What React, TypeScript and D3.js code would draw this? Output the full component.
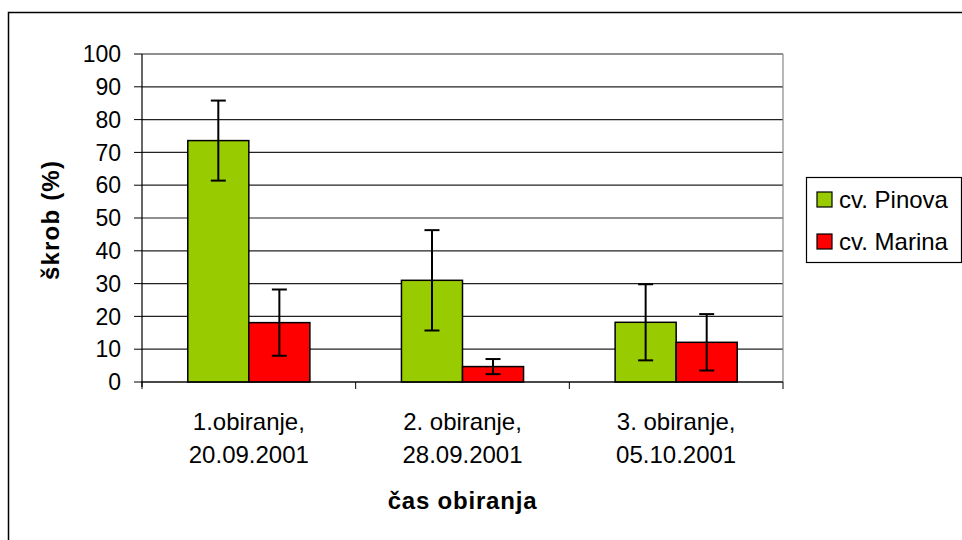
import * as d3 from "d3";

const categories = ["1.obiranje,|20.09.2001", "2. obiranje,|28.09.2001", "3. obiranje,|05.10.2001"];
const seriesNames = ["cv. Pinova", "cv. Marina"];
const seriesColors = ["#99cc00", "#ff0000"];
const pinova = [73.6, 31.0, 18.2];
const marina = [18.1, 4.7, 12.1];
const pinovaErr = [12.2, 15.3, 11.6];
const marinaErr = [10.1, 2.3, 8.6];
const yTicks = [0, 10, 20, 30, 40, 50, 60, 70, 80, 90, 100];

const W = 962;
const H = 540;
const plot = { left: 142, right: 783, top: 54, bottom: 382 };
const font = "Arial, 'Liberation Sans', sans-serif";

export default function App() {
  const x = d3
    .scaleBand<number>()
    .domain(d3.range(categories.length))
    .range([plot.left, plot.right]);
  const inner = d3
    .scaleBand<number>()
    .domain([0, 1])
    .range([0, x.bandwidth()])
    .paddingOuter(0.75);
  const y = d3.scaleLinear().domain([0, 100]).range([plot.bottom, plot.top]);

  const values = [pinova, marina];
  const errs = [pinovaErr, marinaErr];
  const bounds = d3.range(categories.length + 1).map((i) => plot.left + i * x.bandwidth());

  return (
    <svg
      width={W}
      height={H}
      style={{ position: "absolute", left: 0, top: 0, display: "block", background: "#fff" }}
      fontFamily={font}
    >
      <rect x={0} y={0} width={W} height={H} fill="#fff" />
      {/* outer chart frame (continues past the window) */}
      <rect x={8.5} y={12.5} width={W + 20} height={H + 20} fill="none" stroke="#000" strokeWidth={1.5} />

      {/* gridlines */}
      {yTicks.map((t) => (
        <line key={t} x1={plot.left} x2={plot.right} y1={y(t)} y2={y(t)} stroke="#222" strokeWidth={1.2} />
      ))}
      <line x1={plot.right} x2={plot.right} y1={plot.top} y2={plot.bottom} stroke="#888" strokeWidth={1.2} />

      {/* bars */}
      {values.map((vals, s) =>
        vals.map((v, i) => (
          <rect
            key={`${s}-${i}`}
            x={x(i)! + inner(s)!}
            y={y(v)}
            width={inner.bandwidth()}
            height={y(0) - y(v)}
            fill={seriesColors[s]}
            stroke="#000"
            strokeWidth={1.5}
          />
        )),
      )}

      {/* error bars */}
      {values.map((vals, s) =>
        vals.map((v, i) => {
          const cx = x(i)! + inner(s)! + inner.bandwidth() / 2;
          const hi = y(v + errs[s][i]);
          const lo = y(v - errs[s][i]);
          return (
            <g key={`e${s}-${i}`} stroke="#000" strokeWidth={2}>
              <line x1={cx} x2={cx} y1={hi} y2={lo} />
              <line x1={cx - 7.5} x2={cx + 7.5} y1={hi} y2={hi} />
              <line x1={cx - 7.5} x2={cx + 7.5} y1={lo} y2={lo} />
            </g>
          );
        }),
      )}

      {/* axes */}
      <line x1={plot.left} x2={plot.left} y1={plot.top} y2={plot.bottom + 5} stroke="#000" strokeWidth={1.2} />
      <line x1={plot.left - 1} x2={plot.right} y1={plot.bottom} y2={plot.bottom} stroke="#000" strokeWidth={1.2} />
      {yTicks.map((t) => (
        <g key={`yt${t}`}>
          <line x1={plot.left - 8} x2={plot.left} y1={y(t)} y2={y(t)} stroke="#000" strokeWidth={1} />
          <text x={plot.left - 21} y={y(t)} dy="0.36em" textAnchor="end" fontSize={23} fill="#000">
            {t}
          </text>
        </g>
      ))}
      {bounds.map((b, i) => (
        <line key={`xt${i}`} x1={b} x2={b} y1={plot.bottom} y2={plot.bottom + 7} stroke="#000" strokeWidth={1} />
      ))}
      {categories.map((c, i) => {
        const cx = x(i)! + x.bandwidth() / 2;
        return c.split("|").map((line, j) => (
          <text key={`xl${i}-${j}`} x={cx} y={421 + j * 33} dy="0.36em" textAnchor="middle" fontSize={24} fill="#000">
            {line}
          </text>
        ));
      })}

      {/* axis titles */}
      <text x={(plot.left + plot.right) / 2} y={500} dy="0.36em" textAnchor="middle" fontSize={24} fontWeight="bold" letterSpacing={0.8}>
        čas obiranja
      </text>
      <text
        transform={`translate(50,${(plot.top + plot.bottom) / 2 + 2}) rotate(-90)`}
        dy="0.36em"
        textAnchor="middle"
        fontSize={24}
        fontWeight="bold"
        letterSpacing={1.2}
      >
        škrob (%)
      </text>

      {/* legend */}
      <rect x={806.5} y={177.5} width={155} height={85} fill="#fff" stroke="#000" strokeWidth={1.2} />
      {seriesNames.map((n, s) => (
        <g key={n} transform={`translate(0,${199 + s * 42})`}>
          <rect x={817} y={-7} width={15} height={15} fill={seriesColors[s]} stroke="#000" strokeWidth={1.2} />
          <text x={839} y={0} dy="0.36em" fontSize={24} fill="#000">
            {n}
          </text>
        </g>
      ))}
    </svg>
  );
}
